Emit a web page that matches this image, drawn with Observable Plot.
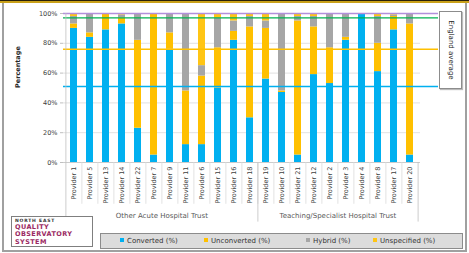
<!DOCTYPE html>
<html>
<head>
<meta charset="utf-8">
<script src="https://cdn.jsdelivr.net/npm/d3@7"></script>
<script src="https://cdn.jsdelivr.net/npm/@observablehq/plot@0.6"></script>
<style>
  html, body { margin: 0; padding: 0; background: #fff; }
  #wrap { position: relative; width: 469px; height: 253px; overflow: hidden; background: #fff; font-family: "DejaVu Sans", sans-serif; }
  #wrap svg { position: absolute; left: 0; top: 0; }
  .abs { position: absolute; box-sizing: border-box; }
  .leg { position: absolute; top: 3px; font-size: 7px; color: #333; white-space: nowrap; line-height: 8px; }
  .sw { display: inline-block; width: 4px; height: 4px; margin-right: 3px; vertical-align: 1px; }
</style>
</head>
<body>
<div id="wrap"></div>
<script>
// ---- data ----
const providers = ["Provider 1","Provider 5","Provider 13","Provider 14","Provider 22","Provider 7","Provider 9","Provider 11","Provider 6","Provider 15","Provider 16","Provider 18","Provider 19","Provider 10","Provider 21","Provider 12","Provider 2","Provider 3","Provider 4","Provider 8","Provider 17","Provider 20"];
const converted   = [90,84,89,93,23, 5,76,12,12,50,82,30,56,47, 5,59,53,82,100,61,89, 5];
const unconverted = [ 3, 3,11, 4,59,95,11,36,46,27, 6,61,34, 1,90,32,24, 2,  0,19, 9,88];
const hybrid      = [ 5,13, 0, 2,18, 0,13,52, 7,20, 7, 7, 5,52, 3, 7,23,16,  0,18, 1, 7];
const unspecified = [ 2, 0, 0, 1, 0, 0, 0, 0,35, 3, 5, 2, 5, 0, 2, 2, 0, 0,  0, 2, 1, 0];
const categories = ["Converted (%)","Unconverted (%)","Hybrid (%)","Unspecified (%)"];
const catColors  = ["#00B0F0","#FFC000","#A6A6A6","#FFC514"];
const groups = ["Other Acute Hospital Trust","Teaching/Specialist Hospital Trust"];
const groupSizes = [12, 10];
const englandAverage = [51, 76, 97, 100];           // cumulative England averages
const averageColors  = ["#00B0F0","#FFC000","#00B050","#B28FDB"];
const yTicks = [0,20,40,60,80,100];

// ---- layout ----
const W = 469, H = 253;
const xRange = [63, 420];
const n = providers.length;
const step = (xRange[1] - xRange[0]) / n;

const series = [converted, unconverted, hybrid, unspecified];
const rows = [];
providers.forEach((p, i) => {
  categories.forEach((c, k) => rows.push({provider: p, category: c, value: series[k][i]}));
});

// group boundary providers and centres (both groups have an even count: centre is a slot boundary)
const groupStarts = [];
const groupCenters = [];
let acc = 0;
groupSizes.forEach((s, i) => {
  groupStarts.push(providers[acc]);
  groupCenters.push({provider: providers[acc + s / 2], label: groups[i]});
  acc += s;
});

const chart = Plot.plot({
  width: W, height: H,
  marginLeft: 63, marginRight: 31, marginTop: 13, marginBottom: 91,
  style: {fontFamily: "DejaVu Sans, sans-serif", fontSize: "6.5px", color: "#333", background: "transparent"},
  x: {domain: providers, range: xRange, paddingInner: 0.55, paddingOuter: 0.275, axis: null},
  y: {domain: [0, 100], axis: null},
  color: {domain: categories, range: catColors},
  marks: [
    Plot.ruleY(yTicks.slice(1), {stroke: "#d9d9d9", strokeWidth: 0.8, insetRight: 18}),
    Plot.barY(rows, {x: "provider", y: "value", fill: "category", order: categories}),
    Plot.ruleY([0], {stroke: "#bfbfbf", strokeWidth: 0.8, insetRight: 18}),
    Plot.ruleY(englandAverage, {y: d => d, stroke: (d, i) => averageColors[i], strokeWidth: 1.3}),
    // y axis
    Plot.axisY({ticks: yTicks, tickFormat: d => d + "%", tickSize: 3, tickPadding: 3, stroke: "#bfbfbf", fill: "#404040", fontSize: 6.5, label: null}),
    Plot.ruleX([providers[0]], {dx: -step / 2, y1: -40, y2: 100, stroke: "#bfbfbf", strokeWidth: 0.8}),
    Plot.text(["Percentage"], {frameAnchor: "left", dx: -46, rotate: -90, fontSize: 6.5, fontWeight: "bold", fill: "#262626"}),
    // x axis labels
    Plot.axisX({tickRotate: -90, tickSize: 0, tickPadding: 4, fontSize: 6.5, fill: "#404040", label: null}),
    // category separators
    Plot.ruleX(providers.slice(1), {x: d => d, dx: -step / 2, y1: 0, y2: -28, stroke: "#d9d9d9", strokeWidth: 0.8}),
    Plot.ruleX(groupStarts.slice(1), {x: d => d, dx: -step / 2, y1: 0, y2: -40, stroke: "#bfbfbf", strokeWidth: 0.8}),
    Plot.ruleX([providers[n - 1]], {dx: step / 2, y1: 0, y2: -40, stroke: "#bfbfbf", strokeWidth: 0.8}),
    // group labels
    Plot.text(groupCenters, {x: "provider", dx: -step / 2, y: -36, text: "label", fontSize: 7, fill: "#595959"})
  ]
});

const wrap = document.getElementById("wrap");
wrap.appendChild(chart);

// frame
const mk = (css, html) => { const d = document.createElement("div"); d.className = "abs"; d.style.cssText = css; if (html) d.innerHTML = html; wrap.appendChild(d); return d; };
mk("left:0;top:0;width:469px;height:1px;background:#2a2008;");
mk("left:0;top:1px;width:469px;height:2px;background:#c9a11a;");
mk("left:2px;top:3px;width:2px;height:249px;background:#a0a0a0;");
mk("left:465px;top:3px;width:2px;height:249px;background:#a0a0a0;");
mk("left:2px;top:250px;width:465px;height:2px;background:#a0a0a0;");

// England average box
mk("left:439px;top:11px;width:23px;height:78px;background:#fff;border:1px solid #8c8c8c;box-shadow:1px 1px 1px #bbb;",
   '<div style="position:absolute;left:50%;top:50%;transform:translate(-50%,-50%) rotate(90deg);font-size:7px;color:#262626;white-space:nowrap;">England average</div>');

// logo box
mk("left:11px;top:216px;width:82px;height:31px;background:#fff;border:1px solid #7f7f7f;",
   '<div style="position:absolute;left:3px;top:1px;font-size:4.5px;line-height:5px;font-weight:bold;color:#333;letter-spacing:0.8px;">NORTH EAST</div>' +
   '<div style="position:absolute;left:3px;top:7px;font-size:6.5px;font-weight:bold;color:#9b2a63;line-height:7.3px;letter-spacing:0.4px;">QUALITY<br>OBSERVATORY<br>SYSTEM</div>');

// legend
const legend = mk("left:100px;top:233px;width:363px;height:16px;background:#dcdcdc;border:1px solid #8c8c8c;");
const legX = [19, 103, 205, 272];
categories.forEach((c, i) => {
  const it = document.createElement("div");
  it.className = "leg";
  it.style.left = legX[i] + "px";
  it.innerHTML = '<span class="sw" style="background:' + catColors[i] + '"></span>' + c;
  legend.appendChild(it);
});
</script>
</body>
</html>
